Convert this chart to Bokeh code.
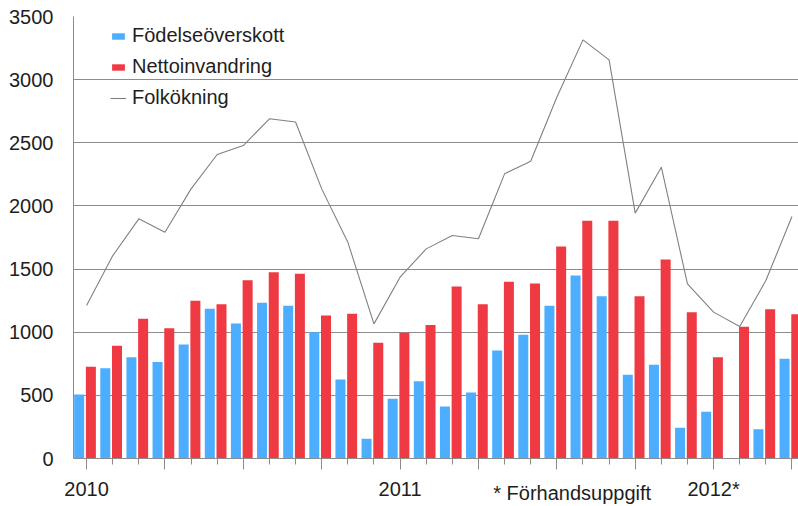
from bokeh.plotting import figure
from bokeh.models import (Range1d, FixedTicker, Legend, LegendItem)
from bokeh.embed import file_html
from bokeh.resources import INLINE

# ---- data (Jan 2010 .. Apr 2012, monthly) ----
months = ["2010-01", "2010-02", "2010-03", "2010-04", "2010-05", "2010-06",
          "2010-07", "2010-08", "2010-09", "2010-10", "2010-11", "2010-12",
          "2011-01", "2011-02", "2011-03", "2011-04", "2011-05", "2011-06",
          "2011-07", "2011-08", "2011-09", "2011-10", "2011-11", "2011-12",
          "2012-01", "2012-02", "2012-03", "2012-04"]
fodelseoverskott = [507, 715, 802, 765, 903, 1185, 1069, 1233, 1209, 1000, 625, 156,
                    473, 612, 412, 523, 855, 979, 1209, 1449, 1285, 663, 742, 243,
                    370, 0, 232, 789]
nettoinvandring = [726, 892, 1106, 1032, 1249, 1222, 1412, 1475, 1462, 1132, 1146, 916,
                   995, 1058, 1362, 1222, 1399, 1386, 1679, 1882, 1882, 1285, 1576, 1159,
                   802, 1043, 1182, 1143]
folkokning = [1211, 1605, 1898, 1792, 2135, 2407, 2478, 2690, 2664, 2135, 1713, 1066,
              1436, 1660, 1766, 1740, 2254, 2354, 2861, 3315, 3157, 1943, 2307, 1383,
              1159, 1045, 1409, 1916]
year_labels = {"2010-01": "2010", "2011-01": "2011", "2012-01": "2012*"}
y_ticks = [0, 500, 1000, 1500, 2000, 2500, 3000, 3500]
footnote = "* Förhandsuppgift"

FONT = "Liberation Sans"
BLUE = "#4dadff"
RED = "#ef3a43"
GRAY = "#8c8c8c"
TXT = "#1e1e1e"

n = len(months)
xc = [i + 0.5 for i in range(n)]
xb = [x - 0.283 for x in xc]
xr = [x + 0.165 for x in xc]
w = 0.383

p = figure(width=798, height=506, output_backend="svg", toolbar_location=None,
           x_range=Range1d(0, 27.75), y_range=Range1d(0, 3500),
           min_border_left=73, min_border_right=0, min_border_top=16,
           min_border_bottom=48)
p.outline_line_color = None
p.background_fill_color = "white"
p.border_fill_color = "white"

rb = p.vbar(x=xb, top=fodelseoverskott, width=w, fill_color=BLUE, line_color=None)
rr = p.vbar(x=xr, top=nettoinvandring, width=w, fill_color=RED, line_color=None)
rl = p.line(x=xc, y=folkokning, line_color="#808080", line_width=1.1)

# y axis
p.yaxis.ticker = FixedTicker(ticks=y_ticks)
p.yaxis.major_tick_out = 0
p.yaxis.major_tick_in = 0
p.yaxis.minor_tick_out = 0
p.yaxis.minor_tick_in = 0
p.yaxis.major_label_standoff = 20
p.yaxis.axis_line_color = GRAY
p.yaxis.major_label_text_font = FONT
p.yaxis.major_label_text_font_size = "20px"
p.yaxis.major_label_text_color = TXT

# x axis
quarter_ticks = [xc[i] for i in range(0, n, 3)]
p.xaxis.ticker = FixedTicker(ticks=quarter_ticks, minor_ticks=xc)
p.xaxis.major_label_overrides = {
    xc[i]: year_labels.get(months[i], "") for i in range(0, n, 3)}
p.xaxis.major_tick_out = 11
p.xaxis.major_tick_in = 0
p.xaxis.minor_tick_out = 6
p.xaxis.minor_tick_in = 0
p.xaxis.major_tick_line_color = GRAY
p.xaxis.minor_tick_line_color = GRAY
p.xaxis.axis_line_color = GRAY
p.xaxis.major_label_standoff = 8
p.xaxis.major_label_text_font = FONT
p.xaxis.major_label_text_font_size = "20px"
p.xaxis.major_label_text_color = TXT
# footnote as axis label (non-breaking spaces shift it right of the centre)
p.xaxis.axis_label = "\u00a0" * 49 + footnote
p.xaxis.axis_label_standoff = -21
p.xaxis.axis_label_text_font = FONT
p.xaxis.axis_label_text_font_size = "20px"
p.xaxis.axis_label_text_font_style = "normal"
p.xaxis.axis_label_text_color = TXT

p.xgrid.grid_line_color = None
p.ygrid.ticker = FixedTicker(ticks=y_ticks)
p.ygrid.grid_line_color = GRAY
p.ygrid.grid_line_width = 1

legend = Legend(items=[
    LegendItem(label="Födelseöverskott", renderers=[rb]),
    LegendItem(label="Nettoinvandring", renderers=[rr]),
    LegendItem(label="Folkökning", renderers=[rl]),
], location=(37, 348))
legend.border_line_color = None
legend.background_fill_alpha = 0
legend.padding = 0
legend.margin = 0
legend.spacing = 6
legend.glyph_width = 16
legend.glyph_height = 8
legend.label_height = 25
legend.label_standoff = 6
legend.label_text_font = FONT
legend.label_text_font_size = "20px"
legend.label_text_color = TXT
p.add_layout(legend, "center")

open("out.html", "w").write(file_html(p, INLINE))
